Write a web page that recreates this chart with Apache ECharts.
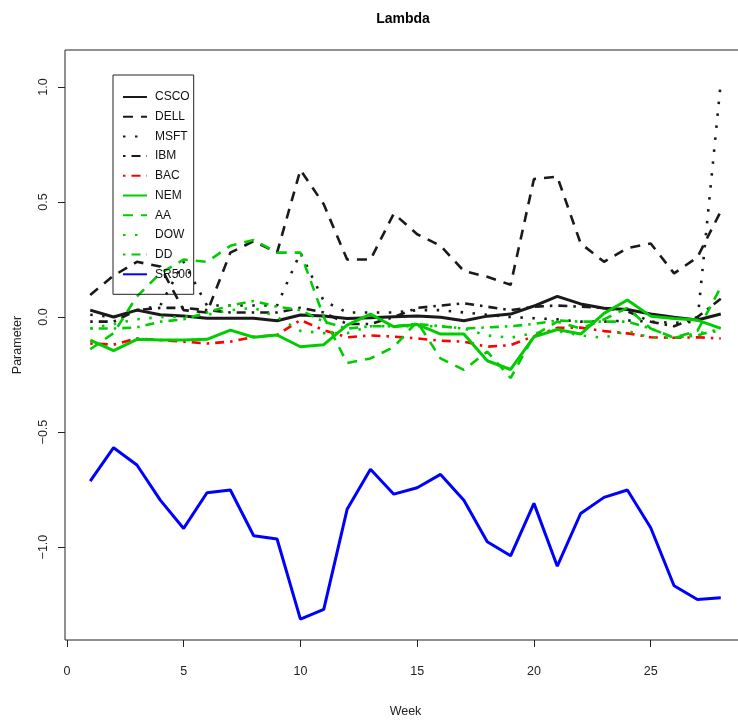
<!DOCTYPE html>
<html>
<head>
<meta charset="utf-8">
<script src="https://cdn.jsdelivr.net/npm/echarts@6/dist/echarts.min.js"></script>
<style>
html, body { margin: 0; padding: 0; background: #fff; }
#main { width: 738px; height: 724px; }
</style>
</head>
<body>
<div id="main"></div>
<script>
// weekly lambda estimates
var weeks = [1,2,3,4,5,6,7,8,9,10,11,12,13,14,15,16,17,18,19,20,21,22,23,24,25,26,27,28];
var csco  = [0.03,0.0,0.03,0.01,0.005,-0.005,-0.005,-0.005,-0.016,0.009,0.005,-0.006,-0.003,0.001,0.005,-0.001,-0.016,0.004,0.013,0.048,0.09,0.057,0.038,0.033,0.013,-0.001,-0.013,0.013];
var dell  = [0.096,0.18,0.24,0.22,0.03,0.02,0.28,0.33,0.28,0.64,0.49,0.25,0.25,0.45,0.36,0.31,0.2,0.175,0.14,0.6,0.61,0.32,0.24,0.3,0.32,0.19,0.26,0.46];
var msft  = [0.01,0.0,0.03,0.05,0.24,0.05,0.05,0.05,0.05,0.28,0.07,0.02,0.02,0.02,0.03,0.03,0.02,0.01,0.0,-0.005,-0.01,-0.02,-0.02,-0.015,-0.02,-0.025,-0.02,1.02];
var ibm   = [-0.02,-0.02,0.03,0.04,0.04,0.03,0.02,0.02,0.02,0.04,0.02,-0.03,-0.03,0.0,0.04,0.05,0.06,0.045,0.03,0.045,0.05,0.045,0.04,0.025,-0.02,-0.04,0.0,0.08];
var bac   = [-0.115,-0.12,-0.093,-0.1,-0.107,-0.115,-0.107,-0.086,-0.078,-0.013,-0.057,-0.088,-0.08,-0.085,-0.093,-0.103,-0.107,-0.129,-0.122,-0.083,-0.047,-0.046,-0.061,-0.071,-0.088,-0.09,-0.088,-0.093];
var nem   = [-0.1,-0.146,-0.097,-0.1,-0.1,-0.097,-0.057,-0.088,-0.078,-0.129,-0.12,-0.035,0.013,-0.042,-0.032,-0.074,-0.074,-0.19,-0.228,-0.086,-0.054,-0.074,0.016,0.074,0.004,-0.006,-0.013,-0.049];
var aa    = [-0.14,-0.07,0.09,0.19,0.25,0.24,0.31,0.335,0.28,0.28,0.0,-0.2,-0.18,-0.13,-0.02,-0.18,-0.23,-0.15,-0.265,-0.08,-0.02,-0.05,-0.01,0.04,-0.05,-0.09,-0.06,0.13];
var dow   = [-0.05,-0.03,-0.01,0.0,0.0,0.01,0.03,0.04,0.0,-0.06,-0.07,-0.07,-0.04,-0.04,-0.04,-0.04,-0.05,-0.08,-0.09,-0.07,-0.06,-0.08,-0.09,-0.06,-0.09,-0.09,-0.07,-0.06];
var dd    = [-0.05,-0.05,-0.045,-0.02,-0.01,0.02,0.05,0.07,0.045,0.03,-0.02,-0.05,-0.04,-0.04,-0.03,-0.04,-0.05,-0.045,-0.04,-0.03,-0.015,-0.02,-0.02,-0.02,-0.05,-0.09,-0.08,-0.05];
var sr500 = [-0.713,-0.568,-0.643,-0.796,-0.919,-0.764,-0.752,-0.951,-0.965,-1.313,-1.271,-0.836,-0.662,-0.77,-0.742,-0.684,-0.796,-0.977,-1.038,-0.81,-1.083,-0.854,-0.784,-0.752,-0.916,-1.168,-1.228,-1.22];

var names  = ['CSCO','DELL','MSFT','IBM','BAC','NEM','AA','DOW','DD','SR500'];
var values = [csco, dell, msft, ibm, bac, nem, aa, dow, dd, sr500];
var xTicks = [0,5,10,15,20,25];
var yTicks = [-1,-0.5,0,0.5,1];

// R line types
var BLACK = '#1a1a1a', GREEN = '#00cd00', RED = '#ff0000', BLUE = '#0000ff';
var SOLID = 'solid', DASHED = [10,8], DOTTED = [2.5,9.5], DOTDASH = [2.5,6,9,6];
var styles = [
	{color: BLACK, type: SOLID,   width: 3},
	{color: BLACK, type: DASHED,  width: 2.6},
	{color: BLACK, type: DOTTED,  width: 2.6},
	{color: BLACK, type: DOTDASH, width: 2.6},
	{color: RED,   type: DOTDASH, width: 2.6},
	{color: GREEN, type: SOLID,   width: 3},
	{color: GREEN, type: DASHED,  width: 2.6},
	{color: GREEN, type: DOTTED,  width: 2.6},
	{color: GREEN, type: DOTDASH, width: 2.6},
	{color: BLUE,  type: SOLID,   width: 3}
];

var FONT = '"Liberation Sans Narrow", "Liberation Sans", Arial, sans-serif';

var series = [];
for(var i = 0; i < names.length; i++){
	var pts = [];
	for(var j = 0; j < weeks.length; j++){
		pts.push([weeks[j], values[i][j]]);
	}
	series.push({
		name: names[i],
		type: 'line',
		data: pts,
		symbol: 'none',
		animation: false,
		color: styles[i].color,
		lineStyle: {
			color: styles[i].color,
			type: styles[i].type,
			width: styles[i].width,
			cap: 'butt'
		}
	});
}

var fmtMinus = function(v){
	return (v < 0 ? '\u2212' : '') + Math.abs(v).toFixed(1);
};

var myChart = echarts.init(document.getElementById('main'), null, {renderer: 'canvas'});
myChart.setOption({
	backgroundColor: '#fff',
	animation: false,
	title: {
		text: 'Lambda',
		left: 398,
		top: 7,
		textAlign: 'center',
		textStyle: {fontFamily: FONT, fontWeight: 'bold', fontSize: 14, color: '#000'}
	},
	legend: {
		orient: 'vertical',
		left: 113,
		top: 75,
		data: names,
		padding: [16, 2, 14, 9],
		itemWidth: 24,
		itemHeight: 14,
		itemGap: 7.7,
		borderColor: '#222',
		borderWidth: 1,
		borderRadius: 0,
		backgroundColor: 'transparent',
		itemStyle: {opacity: 0},
		textStyle: {fontFamily: FONT, fontSize: 12, color: '#111', padding: [0, 0, 0, 3]}
	},
	grid: {
		left: 65,
		right: -8,
		top: 50,
		bottom: 84,
		outerBoundsMode: 'none',
		containLabel: false,
		show: true,
		borderColor: '#222',
		borderWidth: 1
	},
	xAxis: {
		type: 'value',
		min: -0.08,
		max: 29.08,
		name: 'Week',
		nameLocation: 'middle',
		nameGap: 65,
		nameTextStyle: {fontFamily: FONT, fontSize: 12.5, color: '#222'},
		axisLine: {show: false, onZero: false},
		splitLine: {show: false},
		axisTick: {show: true, length: 7, inside: false, customValues: xTicks, lineStyle: {color: '#222'}},
		axisLabel: {customValues: xTicks, margin: 25, fontFamily: FONT, fontSize: 12.5, color: '#222'}
	},
	yAxis: {
		type: 'value',
		min: -1.404,
		max: 1.161,
		name: 'Parameter',
		nameLocation: 'middle',
		nameGap: 41,
		nameRotate: 90,
		nameTextStyle: {fontFamily: FONT, fontSize: 12.5, color: '#222'},
		axisLine: {show: false, onZero: false},
		splitLine: {show: false},
		axisTick: {show: true, length: 7, inside: false, customValues: yTicks, lineStyle: {color: '#222'}},
		axisLabel: {customValues: yTicks, rotate: 90, margin: 15, fontFamily: FONT, fontSize: 12.5, color: '#222', formatter: fmtMinus}
	},
	series: series
});
</script>
</body>
</html>
